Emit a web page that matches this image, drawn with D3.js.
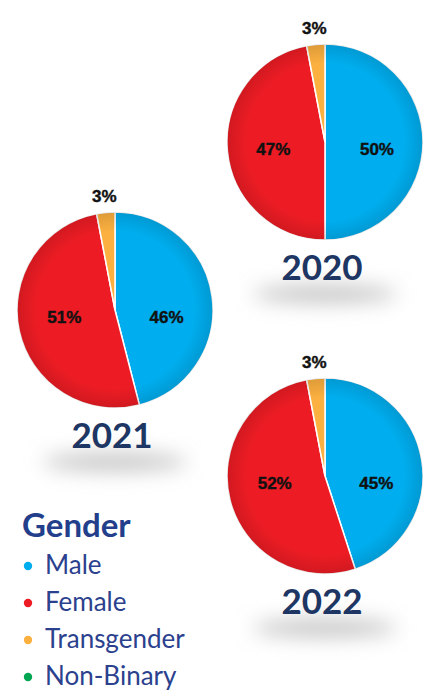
<!DOCTYPE html>
<html>
<head>
<meta charset="utf-8">
<script src="https://cdn.jsdelivr.net/npm/d3@7"></script>
<style>
	html, body { margin: 0; padding: 0; background: #fff; }
	#chart { width: 430px; height: 690px; }
</style>
</head>
<body>
<div id="chart"></div>
<script>
// data
const years = ["2020", "2021", "2022"];
const categories = ["Male", "Female", "Transgender", "Non-Binary"];
const male = [50, 46, 45];
const female = [47, 51, 52];
const transgender = [3, 3, 3];
const nonBinary = [0, 0, 0];

const palette = ["#00aeef", "#ed1c24", "#fbb040", "#00a651"];

// layout of each pie (center + radius)
const pieLayout = {
	2020: { cx: 325, cy: 142 },
	2021: { cx: 115, cy: 310 },
	2022: { cx: 325, cy: 476 },
};
const radius = 98;

const width = 430;
const height = 690;

const svg = d3
	.select("#chart")
	.append("svg")
	.attr("viewBox", `0 0 ${width} ${height}`)
	.attr("width", width)
	.attr("height", height);

const defs = svg.append("defs");

const blur = defs.append("filter").attr("id", "blur").attr("x", "-50%").attr("y", "-300%").attr("width", "200%").attr("height", "700%");
blur.append("feGaussianBlur").attr("stdDeviation", 10);

const edge = defs.append("radialGradient").attr("id", "edge");
edge.append("stop").attr("offset", "80%").attr("stop-color", "#000").attr("stop-opacity", 0);
edge.append("stop").attr("offset", "100%").attr("stop-color", "#000").attr("stop-opacity", 0.12);

const colorScale = d3.scaleOrdinal().domain(categories).range(palette);

const pie = d3
	.pie()
	.sort(null)
	.value((d) => d.value);

const arc = d3.arc().innerRadius(0).outerRadius(radius);
const labelArc = d3.arc().innerRadius(radius * 0.53).outerRadius(radius * 0.53);
const outerLabelArc = d3.arc().innerRadius(radius + 16).outerRadius(radius + 16);

years.forEach((year, i) => {
	const rows = categories.map((c, j) => ({
		category: c,
		value: [male, female, transgender, nonBinary][j][i],
	}));
	const { cx, cy } = pieLayout[year];

	const g = svg.append("g").attr("transform", `translate(${cx}, ${cy})`);

	// soft shadow under the year label
	g.append("ellipse")
		.attr("cx", 0)
		.attr("cy", radius + 54)
		.attr("rx", 72)
		.attr("ry", 9)
		.attr("fill", "#c4c4c4")
		.attr("filter", "url(#blur)");

	const slices = pie(rows).filter((d) => d.data.value > 0);

	g.selectAll("path.slice")
		.data(slices)
		.enter()
		.append("path")
		.attr("class", "slice")
		.attr("d", arc)
		.attr("fill", (d) => colorScale(d.data.category))
		.attr("stroke", "#fff")
		.attr("stroke-width", 1.5);

	g.append("circle").attr("r", radius).attr("fill", "url(#edge)");

	g.selectAll("text.pct")
		.data(slices)
		.enter()
		.append("text")
		.attr("class", "pct")
		.attr("x", (d) => (d.data.value < 10 ? outerLabelArc.centroid(d)[0] : labelArc.centroid(d)[0]))
		.attr("y", (d) => (d.data.value < 10 ? outerLabelArc.centroid(d)[1] : 7))
		.attr("text-anchor", "middle")
		.attr("dominant-baseline", "central")
		.style("font-family", "'Liberation Sans', Arial, sans-serif")
		.style("font-weight", "bold")
		.style("font-size", "17px")
		.attr("fill", "#111")
		.attr("stroke", "#111")
		.attr("stroke-width", 0.4)
		.text((d) => `${d.data.value}%`);

	g.append("text")
		.attr("x", -3)
		.attr("y", radius + 40)
		.attr("text-anchor", "middle")
		.style("font-family", "Lato, sans-serif")
		.style("font-weight", "bold")
		.style("font-size", "35px")
		.attr("fill", "#1d3663")
		.text(year);
});

// legend
const legend = svg.append("g").attr("transform", "translate(22, 537)");

legend
	.append("text")
	.attr("x", 0)
	.attr("y", 0)
	.style("font-family", "Lato, sans-serif")
	.style("font-weight", "bold")
	.style("font-size", "33px")
	.attr("fill", "#233f8c")
	.text("Gender");

categories.forEach((category, i) => {
	const row = legend.append("g").attr("transform", `translate(0, ${37 + i * 37})`);
	row.append("circle")
		.attr("cx", 6)
		.attr("cy", -8)
		.attr("r", 4.2)
		.attr("fill", colorScale(category));
	row.append("text")
		.attr("x", 23)
		.attr("y", 0)
		.style("font-family", "Lato, sans-serif")
		.style("font-size", "26px")
		.attr("fill", "#2b418e")
		.text(category);
});
</script>
</body>
</html>
